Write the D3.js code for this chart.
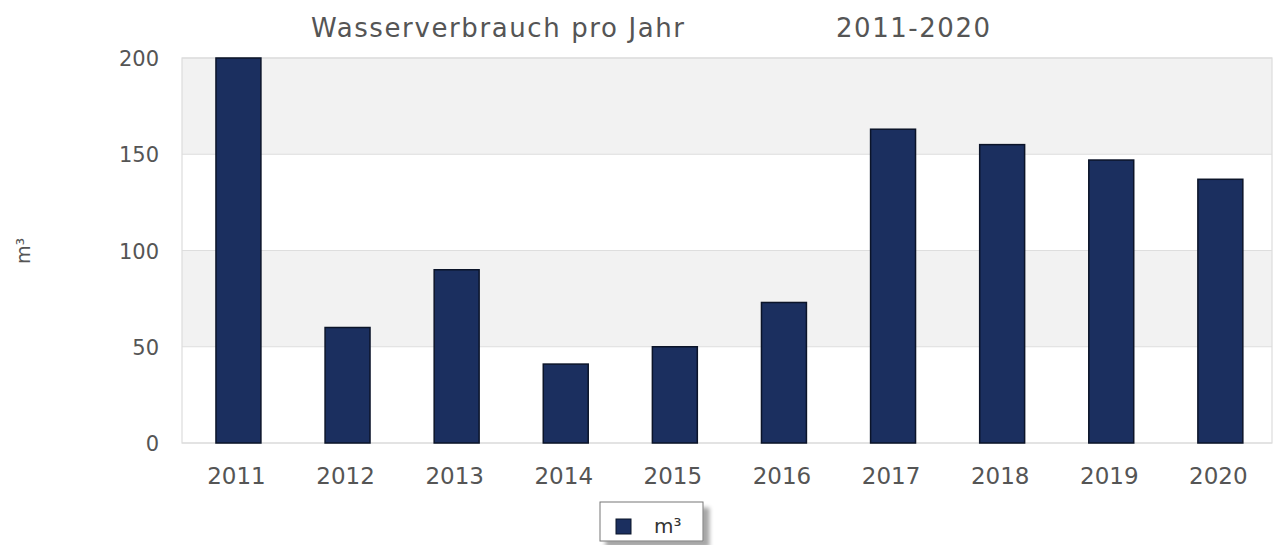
<!DOCTYPE html>
<html><head><meta charset="utf-8">
<script src="https://cdn.jsdelivr.net/npm/d3@7"></script>
<style>body{margin:0;background:#fff;}svg{display:block;}</style>
</head><body>
<svg id="c" width="1277" height="545"></svg>
<script>
const categories = ["2011","2012","2013","2014","2015","2016","2017","2018","2019","2020"];
const values = [200, 60, 90, 41, 50, 73, 163, 155, 147, 137];
const yTicks = [0, 50, 100, 150, 200];
const seriesName = "m³";
const titleLeft = "Wasserverbrauch pro Jahr";
const titleRight = "2011-2020";

const svg = d3.select("#c");
const m = {left:182, right:5, top:58, bottom:102};
const W = 1277, H = 545;
const iw = W - m.left - m.right, ih = H - m.top - m.bottom;
const x = d3.scaleBand().domain(categories).range([17.6, 1077.2]).paddingInner(0.588).paddingOuter(0.15);
const y = d3.scaleLinear().domain([0, 200]).range([ih, 0]);
const g = svg.append("g").attr("transform", `translate(${m.left},${m.top})`);
const font = "DejaVu Sans, sans-serif";

// alternating bands
for (let i = 0; i < yTicks.length - 1; i++) {
  g.append("rect").attr("x", 0).attr("width", iw)
    .attr("y", y(yTicks[i+1])).attr("height", y(yTicks[i]) - y(yTicks[i+1]))
    .attr("fill", i % 2 === 1 ? "#f2f2f2" : "#ffffff");
}
// gridlines
g.selectAll(".grid").data(yTicks).enter().append("line")
  .attr("x1", 0).attr("x2", iw).attr("y1", d => y(d)).attr("y2", d => y(d))
  .attr("stroke", "#dedede").attr("stroke-width", 1.2);
// frame
g.append("rect").attr("x", 0).attr("y", 0).attr("width", iw).attr("height", ih)
  .attr("fill", "none").attr("stroke", "#dcdcdc").attr("stroke-width", 1.2);

// bars
g.selectAll(".bar").data(values).enter().append("rect")
  .attr("x", (d, i) => x(categories[i]))
  .attr("width", x.bandwidth())
  .attr("y", d => y(d))
  .attr("height", d => ih - y(d))
  .attr("fill", "#1b2f5f").attr("stroke", "#0b1429").attr("stroke-width", 1.5);

// y axis labels
const yAxis = g.append("g").call(d3.axisLeft(y).tickValues(yTicks).tickSize(0).tickPadding(23));
yAxis.select(".domain").remove();
yAxis.selectAll("text").attr("font-family", font).attr("font-size", 21).attr("fill", "#555")
  .attr("dy", "0.36em");

// x axis labels
const xAxis = g.append("g").attr("transform", `translate(0,${ih})`)
  .call(d3.axisBottom(x).tickSize(0).tickPadding(0));
xAxis.select(".domain").remove();
xAxis.selectAll("text").attr("font-family", font).attr("font-size", 23).attr("fill", "#555")
  .attr("dy", null).attr("y", 41).attr("dx", -2);

// y title
svg.append("text").attr("transform", "translate(30,251) rotate(-90)")
  .attr("text-anchor", "middle").attr("font-family", font).attr("font-size", 19).attr("fill", "#555")
  .text(seriesName);

// title
svg.append("text").attr("x", 311).attr("y", 37).attr("font-family", font).attr("font-size", 26)
  .attr("fill", "#555").attr("textLength", 373).attr("lengthAdjust", "spacing").text(titleLeft);
svg.append("text").attr("x", 836).attr("y", 37).attr("font-family", font).attr("font-size", 26)
  .attr("fill", "#555").attr("textLength", 154).attr("lengthAdjust", "spacing").text(titleRight);

// legend
const lg = svg.append("g").attr("transform", "translate(600,502)");
const defs = svg.append("defs");
const f = defs.append("filter").attr("id", "sh").attr("x", "-20%").attr("y", "-20%").attr("width", "150%").attr("height", "150%");
f.append("feGaussianBlur").attr("in", "SourceAlpha").attr("stdDeviation", 2);
f.append("feOffset").attr("dx", 6).attr("dy", 6).attr("result", "o");
f.append("feComponentTransfer").append("feFuncA").attr("type", "linear").attr("slope", 0.35);
const mg = f.append("feMerge"); mg.append("feMergeNode"); mg.append("feMergeNode").attr("in", "SourceGraphic");
lg.append("rect").attr("width", 103).attr("height", 39).attr("fill", "#fff")
  .attr("stroke", "#777").attr("stroke-width", 1).attr("filter", "url(#sh)");
lg.append("rect").attr("x", 16).attr("y", 17).attr("width", 15).attr("height", 15)
  .attr("fill", "#1b2f5f").attr("stroke", "#0b1429");
lg.append("text").attr("x", 54).attr("y", 31).attr("font-family", font).attr("font-size", 20)
  .attr("fill", "#333").text(seriesName);
</script>
</body></html>
